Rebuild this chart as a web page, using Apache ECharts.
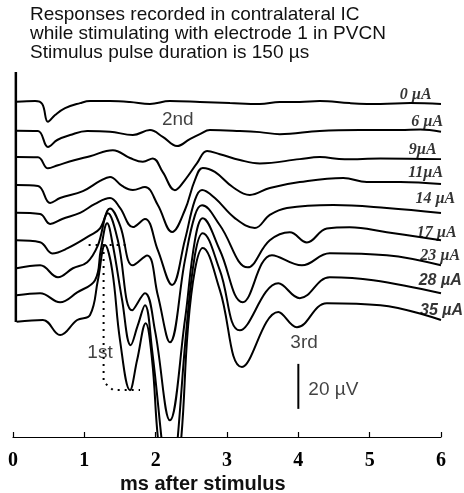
<!DOCTYPE html>
<html>
<head>
<meta charset="utf-8">
<script src="https://cdn.jsdelivr.net/npm/echarts@6/dist/echarts.min.js"></script>
<style>
html,body{margin:0;padding:0;background:#fff;}
#chart{width:464px;height:493px;}
</style>
</head>
<body>
<div id="chart"></div>
<script>
// Stimulus currents, one evoked-potential trace per current
const currents = ['0 µA', '6 µA', '9µA', '11µA', '14 µA', '17 µA', '23 µA', '28 µA', '35 µA'];

// Vertical offset (µV) at which each trace is stacked
const baselines = [0, -12.9, -24.6, -37.0, -49.3, -61.6, -74.0, -86.0, -97.8];

// Traces: [time after stimulus (ms), response (µV) relative to the trace's own baseline]
const trace0uA = [[0.05,0],[0.31,0.3],[0.41,-1.0],[0.49,-8.9],[0.59,-5.9],[0.73,-2.8],[0.94,-0.6],[1.08,0.3],[1.36,0.3],[1.64,-0.1],[1.92,-1.0],[2.20,0.3],[2.62,-0.1],[3.04,-0.6],[3.46,-1.0],[3.74,-0.1],[4.02,-0.1],[4.30,0.3],[4.72,-0.6],[5.15,-1.0],[5.57,-0.6],[6.00,-1.0]];
const trace6uA = [[0.05,0],[0.35,-0.1],[0.49,-7.2],[0.62,-4.1],[0.80,-1.9],[1.04,-0.1],[1.36,-0.4],[1.68,-1.9],[1.92,0.3],[2.10,-2.7],[2.30,-6.8],[2.48,-3.7],[2.62,-1.5],[2.76,0.3],[3.18,-0.1],[3.46,-0.6],[3.74,-1.5],[4.30,-0.1],[4.86,0.3],[5.43,0.3],[5.71,0.6],[6.00,-0.4]];
const trace9uA = [[0.05,0],[0.35,-0.1],[0.49,-5.0],[0.63,-3.6],[0.87,-1.3],[1.08,0.4],[1.40,3.1],[1.64,-0.4],[1.82,-2.1],[1.96,-0.6],[2.10,-6.7],[2.27,-14.7],[2.41,-10.2],[2.58,-2.7],[2.72,2.7],[2.90,1.3],[3.18,-1.3],[3.46,-2.8],[4.02,-0.9],[4.30,0],[4.65,-1.0],[5.15,-0.6],[6.00,-0.9]];
const trace11uA = [[0.05,0],[0.35,-0.4],[0.52,-8.0],[0.66,-5.8],[0.98,-2.7],[1.22,1.8],[1.36,3.6],[1.53,-0.4],[1.68,-2.2],[1.85,-0.9],[2.03,-8.9],[2.23,-20.9],[2.41,-11.1],[2.55,2.2],[2.66,7.6],[2.83,5.8],[3.08,-0.9],[3.32,-4.4],[3.60,-1.3],[4.02,1.3],[4.63,3.1],[4.96,1.3],[5.43,1.3],[6.00,0.4]];
const trace14uA = [[0.05,0],[0.38,-0.6],[0.52,-5.0],[0.69,-2.8],[0.94,-0.1],[1.15,3.9],[1.36,6.5],[1.50,2.1],[1.68,-6.4],[1.85,-2.8],[2.03,-16.6],[2.23,-32.1],[2.41,-12.1],[2.55,5.6],[2.65,10.1],[2.83,6.5],[3.11,-2.4],[3.39,-6.8],[3.60,-1.0],[3.84,2.1],[4.49,3.4],[5.24,2.1],[6.00,-0.1]];
const trace17uA = [[0.05,0],[0.38,-0.8],[0.55,-5.8],[0.76,-3.6],[1.08,2.2],[1.22,5.3],[1.36,14.2],[1.50,6.7],[1.68,-11.1],[1.88,-6.7],[2.03,-24.4],[2.20,-45.3],[2.41,-8.9],[2.55,11.1],[2.65,15.6],[2.90,6.7],[3.29,-12.0],[3.60,0],[3.88,3.6],[4.12,-0.9],[4.40,5.3],[4.72,5.8],[5.24,3.6],[6.00,0]];
const trace23uA = [[0.05,0],[0.38,1.3],[0.63,-4.0],[0.84,0],[1.04,2.7],[1.19,10.2],[1.33,24.4],[1.47,12.4],[1.67,-18.7],[1.85,-11.1],[1.99,-27.6],[2.20,-67.6],[2.41,-23.1],[2.55,12.4],[2.66,22.2],[2.90,8.0],[3.22,-15.1],[3.63,5.8],[4.05,1.3],[4.44,6.7],[5.24,5.8],[6.00,1.3]];
const trace28uA = [[0.05,0],[0.38,0.9],[0.66,-3.1],[0.90,1.3],[1.15,6.7],[1.23,20.0],[1.32,32.0],[1.40,22.2],[1.53,-2.2],[1.65,-22.2],[1.75,-13.3],[1.85,-4.4],[1.95,-24.4],[2.08,-63.1],[2.20,-100],[2.31,-63.1],[2.43,-15.6],[2.55,17.8],[2.66,27.6],[2.90,11.1],[3.18,-15.6],[3.72,5.3],[4.02,-1.3],[4.44,8.0],[5.05,6.7],[6.00,0.9]];
const trace35uA = [[0.05,0],[0.42,0.8],[0.66,-5.9],[0.90,0.8],[1.08,3.0],[1.19,18.5],[1.29,34.1],[1.39,23.0],[1.50,-8.1],[1.64,-30.4],[1.74,-17.0],[1.86,-0.6],[1.95,-17.0],[2.03,-51.2],[2.20,-97.0],[2.36,-51.2],[2.45,-3.7],[2.55,23.0],[2.66,32.8],[2.90,14.1],[3.21,-20.1],[3.72,4.4],[3.98,-2.4],[4.40,8.3],[5.15,7.4],[6.00,0.8]];
const traces = [trace0uA, trace6uA, trace9uA, trace11uA, trace14uA, trace17uA, trace23uA, trace28uA, trace35uA];

// Where each current label sits (right edge, centre) in axis units
const currentLabelPos = [[5.87,3.0],[6.03,-8.9],[5.94,-21.5],[6.03,-31.8],[6.20,-43.3],[6.22,-58.1],[6.27,-68.5],[6.29,-79.6],[6.31,-92.9]];

// Stimulus artifact marker, 20 µV calibration bar, 1st-wave amplitude bracket
const stimMarker = [[0.04,13.2],[0.04,-97.9]];
const scaleBar = [[4.0,-116.5],[4.0,-136.5]];
const bracketTop = [[1.06,-63.7],[1.63,-63.7]];
const bracketSide = [[1.27,-63.7],[1.27,-124.6],[1.40,-128.1],[1.78,-128.1]];

// Wave names and calibration text
const waveNotes = [
  { text: '2nd', at: [2.31,-8.1], align: 'center' },
  { text: '1st', at: [1.22,-111.7], align: 'center' },
  { text: '3rd', at: [4.08,-107.3], align: 'center' },
  { text: '20 µV', at: [4.14,-127.9], align: 'left' }
];

const xTicks = [0, 1, 2, 3, 4, 5, 6];

const chart = echarts.init(document.getElementById('chart'), null, { renderer: 'canvas' });

const series = [];
traces.forEach((tr, k) => {
  series.push({
    type: 'line',
    data: tr.map(p => [p[0], p[1] + baselines[k]]),
    showSymbol: false,
    smooth: 0.4,
    clip: true,
    silent: true,
    lineStyle: { color: '#000', width: 2 },
    z: 3
  });
});
series.push({
  type: 'line', data: stimMarker, showSymbol: false, silent: true,
  lineStyle: { color: '#000', width: 2.5 }, z: 4
});
series.push({
  type: 'line', data: scaleBar, showSymbol: false, silent: true,
  lineStyle: { color: '#000', width: 2 }, z: 4
});
series.push({
  type: 'line', data: bracketTop, showSymbol: false, silent: true,
  lineStyle: { color: '#000', width: 2, type: [2, 5] }, z: 4
});
series.push({
  type: 'line', data: bracketSide, showSymbol: false, silent: true,
  lineStyle: { color: '#000', width: 2, type: [2, 5] }, z: 4
});
// current labels
series.push({
  type: 'scatter', symbolSize: 0, silent: true, clip: false, z: 5,
  data: currents.map((c, k) => ({
    value: currentLabelPos[k],
    label: {
      show: true, position: 'inside', formatter: c,
      align: 'right', verticalAlign: 'middle',
      fontStyle: 'italic', fontWeight: 'bold', fontSize: 16,
      fontFamily: k >= 7 ? '"Liberation Sans", Arial, sans-serif' : '"Liberation Serif", "Times New Roman", serif',
      color: '#000'
    }
  }))
});
// wave names and calibration
series.push({
  type: 'scatter', symbolSize: 0, silent: true, clip: false, z: 5,
  data: waveNotes.map(n => ({
    value: n.at,
    label: {
      show: true, position: 'inside', formatter: n.text,
      align: n.align, verticalAlign: 'middle',
      fontSize: 19, fontFamily: '"Liberation Sans", Arial, sans-serif', color: '#111'
    }
  }))
});

chart.setOption({
  animation: false,
  backgroundColor: '#fff',
  title: [
    {
      text: 'Responses recorded in contralateral IC\nwhile stimulating with electrode 1 in PVCN\nStimulus pulse duration is 150 µs',
      left: 30, top: 5, padding: 0,
      textStyle: { fontFamily: '"Liberation Sans", Arial, sans-serif', fontSize: 19, fontWeight: 'normal', color: '#111', lineHeight: 19.3 }
    },
    {
      text: 'ms after stimulus',
      left: 120, top: 474, padding: 0,
      textStyle: { fontFamily: '"Liberation Sans", Arial, sans-serif', fontSize: 20, fontWeight: 'bold', color: '#111' }
    }
  ],
  grid: { left: 13, right: 23, top: 68, bottom: 56, outerBoundsMode: 'none', containLabel: false },
  xAxis: {
    type: 'value', min: xTicks[0], max: xTicks[xTicks.length - 1], interval: 1,
    axisLine: { show: true, onZero: false, lineStyle: { color: '#000', width: 1.2 } },
    axisTick: { show: true, inside: true, length: 5, lineStyle: { color: '#000', width: 1.2 } },
    axisLabel: {
      show: true, margin: 14, showMinLabel: true, showMaxLabel: true,
      fontFamily: '"Liberation Serif", "Times New Roman", serif', fontWeight: 'bold', fontSize: 20, color: '#000'
    },
    splitLine: { show: false }
  },
  yAxis: {
    type: 'value', min: -149, max: 15, show: false,
    splitLine: { show: false }
  },
  series: series
});
</script>
</body>
</html>
